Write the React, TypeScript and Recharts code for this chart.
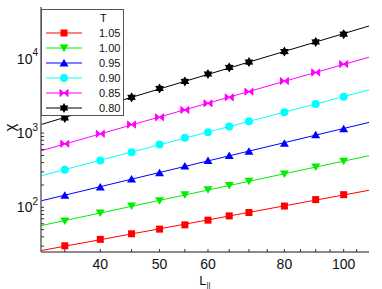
import { ComposedChart, Legend, Line, Scatter, XAxis, YAxis } from 'recharts'

const L = [35, 40, 45, 50, 55, 60, 65, 70, 80, 90, 100]

const chi105 = [30.3, 37.0, 44.0, 50.8, 58.0, 67.1, 76.6, 85.1, 104, 127, 148]
const chi100 = [65.6, 84, 104, 123, 148, 173, 196, 224, 281, 348, 419]
const chi095 = [145, 188, 240, 293, 359, 428, 500, 571, 731, 948, 1140]
const chi090 = [321, 428, 554, 703, 865, 1028, 1225, 1443, 1906, 2472, 3097]
const chi085 = [718, 977, 1303, 1633, 2052, 2518, 3032, 3614, 5030, 6560, 8510]
const chi080 = [1603, 2250, 3032, 4000, 4970, 6250, 7660, 9050, 12560, 16940, 21500]

const X_DOMAIN: [number, number] = [32, 110]
const Y_DOMAIN: [number, number] = [25, 50000]
const X_TICKS = [35, 40, 45, 50, 55, 60, 65, 70, 75, 80, 85, 90, 95, 100, 105]
const X_LABELED = [40, 50, 60, 80, 100]
const Y_TICKS = [
  30, 40, 50, 60, 70, 80, 90,
  100, 200, 300, 400, 500, 600, 700, 800, 900,
  1000, 2000, 3000, 4000, 5000, 6000, 7000, 8000, 9000,
  10000, 20000, 30000, 40000,
]
const Y_LABELED = [100, 1000, 10000]

type Marker = 'square' | 'down' | 'up' | 'circle' | 'bowtie' | 'star'

const SERIES: { t: string; values: number[]; color: string; marker: Marker }[] = [
  { t: '1.05', values: chi105, color: '#ff0000', marker: 'square' },
  { t: '1.00', values: chi100, color: '#00ee00', marker: 'down' },
  { t: '0.95', values: chi095, color: '#0000ff', marker: 'up' },
  { t: '0.90', values: chi090, color: '#00ffff', marker: 'circle' },
  { t: '0.85', values: chi085, color: '#ff00ff', marker: 'bowtie' },
  { t: '0.80', values: chi080, color: '#000000', marker: 'star' },
]

const FONT = '"Liberation Sans", Arial, sans-serif'

// least squares in log-log, evaluated at the axis ends
function powerFit(xs: number[], ys: number[]) {
  const lx = xs.map(Math.log10)
  const ly = ys.map(Math.log10)
  const mx = lx.reduce((a, b) => a + b, 0) / lx.length
  const my = ly.reduce((a, b) => a + b, 0) / ly.length
  let sxy = 0
  let sxx = 0
  lx.forEach((v, i) => {
    sxy += (v - mx) * (ly[i] - my)
    sxx += (v - mx) * (v - mx)
  })
  const b = sxy / sxx
  const a = my - b * mx
  return X_DOMAIN.map((x) => ({ x, y: 10 ** (a + b * Math.log10(x)) }))
}

function drawMarker(kind: Marker, cx: number, cy: number, color: string) {
  switch (kind) {
    case 'square':
      return <rect x={cx - 3.5} y={cy - 3.5} width={7} height={7} fill={color} />
    case 'down':
      return <polygon points={`${cx - 4.5},${cy - 3.5} ${cx + 4.5},${cy - 3.5} ${cx},${cy + 4}`} fill={color} />
    case 'up':
      return <polygon points={`${cx - 4.5},${cy + 3.5} ${cx + 4.5},${cy + 3.5} ${cx},${cy - 4}`} fill={color} />
    case 'circle':
      return <circle cx={cx} cy={cy} r={4} fill={color} />
    case 'bowtie':
      return (
        <g fill={color} stroke={color} strokeWidth={1}>
          <polygon points={`${cx - 4},${cy - 3.5} ${cx},${cy} ${cx - 4},${cy + 3.5}`} />
          <polygon points={`${cx + 4},${cy - 3.5} ${cx},${cy} ${cx + 4},${cy + 3.5}`} />
        </g>
      )
    default: {
      const pts: string[] = []
      for (let k = 0; k < 12; k++) {
        const ang = (-90 + k * 30) * (Math.PI / 180)
        const r = k % 2 === 0 ? 5 : 3
        pts.push(`${cx + r * Math.cos(ang)},${cy + r * Math.sin(ang)}`)
      }
      return <polygon points={pts.join(' ')} fill={color} />
    }
  }
}

function XTick(props: any) {
  const { x, y, payload } = props
  if (!X_LABELED.includes(payload.value)) return <g />
  return (
    <text x={x} y={y} textAnchor="middle" fontSize={14} fontFamily={FONT} fill="#111">
      {payload.value}
    </text>
  )
}

function YTick(props: any) {
  const { x, y, payload } = props
  if (!Y_LABELED.includes(payload.value)) return <g />
  const exp = Math.round(Math.log10(payload.value))
  return (
    <text x={x} y={y + 5} textAnchor="end" fontSize={14} fontFamily={FONT} fill="#111">
      <tspan>10</tspan>
      <tspan dy={-7.5} fontSize={10}>{exp}</tspan>
    </text>
  )
}

function LegendBox() {
  return (
    <svg width={83} height={107} style={{ display: 'block', background: '#fff' }}>
      <rect x={0.5} y={0.5} width={82} height={106} fill="#fff" stroke="#555" strokeWidth={1} />
      <text x={59} y={13} fontSize={11} fontFamily={FONT} fill="#111">T</text>
      {SERIES.map((s, i) => {
        const cy = 24 + i * 15
        return (
          <g key={s.t}>
            <line x1={5} x2={41} y1={cy} y2={cy} stroke={s.color} strokeWidth={1} />
            {drawMarker(s.marker, 23, cy, s.color)}
            <text x={58} y={cy + 4} fontSize={11} fontFamily={FONT} fill="#111">{s.t}</text>
          </g>
        )
      })}
    </svg>
  )
}

export default function App() {
  return (
    <div style={{ position: 'absolute', left: 0, top: 0, background: '#fff' }}>
      <ComposedChart
        width={382}
        height={289}
        margin={{ top: 7, right: 13, bottom: 0, left: 0 }}
        style={{ fontFamily: FONT }}
      >
        <XAxis
          dataKey="x"
          type="number"
          scale="log"
          domain={X_DOMAIN}
          allowDataOverflow
          ticks={X_TICKS}
          interval={0}
          height={37}
          tickSize={-3}
          tickMargin={20}
          tick={<XTick />}
          axisLine={{ stroke: '#666', strokeWidth: 1.5 }}
          tickLine={{ stroke: '#333' }}
          label={{
            content: (p: any) => {
              const vb = p.viewBox
              return (
                <text x={vb.x + 164} y={vb.y + 33} textAnchor="middle" fontSize={13} fontFamily={FONT} fill="#111">
                  L<tspan dy={2} fontSize={8}>||</tspan>
                </text>
              )
            },
          }}
        />
        <XAxis
          xAxisId="top"
          orientation="top"
          type="number"
          scale="log"
          domain={X_DOMAIN}
          allowDataOverflow
          height={0}
          tick={false}
          tickLine={false}
          axisLine={{ stroke: '#808080', strokeWidth: 1.5 }}
        />
        <YAxis
          type="number"
          scale="log"
          domain={Y_DOMAIN}
          allowDataOverflow
          ticks={Y_TICKS}
          interval={0}
          width={41}
          tickSize={-3}
          tickMargin={6}
          tick={<YTick />}
          axisLine={{ stroke: '#666', strokeWidth: 1.5 }}
          tickLine={{ stroke: '#333' }}
          label={{
            content: (p: any) => {
              const vb = p.viewBox
              const cx = vb.x + 9
              const cy = vb.y + vb.height / 2 - 2
              return (
                <text
                  x={cx}
                  y={cy}
                  textAnchor="middle"
                  dominantBaseline="central"
                  fontSize={15}
                  fontFamily={FONT}
                  fill="#111"
                  transform={`rotate(-90, ${cx}, ${cy})`}
                >
                  χ
                </text>
              )
            },
          }}
        />
        <YAxis
          yAxisId="right"
          orientation="right"
          type="number"
          scale="log"
          domain={Y_DOMAIN}
          allowDataOverflow
          width={0}
          tick={false}
          tickLine={false}
          axisLine={{ stroke: '#808080', strokeWidth: 1.5 }}
        />
        {SERIES.map((s) => (
          <Line
            key={`fit-${s.t}`}
            data={powerFit(L, s.values)}
            dataKey="y"
            type="linear"
            stroke={s.color}
            strokeWidth={1}
            dot={false}
            activeDot={false}
            isAnimationActive={false}
            legendType="none"
          />
        ))}
        {SERIES.map((s) => (
          <Scatter
            key={`pts-${s.t}`}
            data={L.map((x, i) => ({ x, y: s.values[i] }))}
            dataKey="y"
            fill={s.color}
            isAnimationActive={false}
            shape={(p: any) => drawMarker(s.marker, p.cx, p.cy, s.color)}
          />
        ))}
        <Legend
          layout="vertical"
          align="center"
          verticalAlign="middle"
          content={() => <LegendBox />}
          wrapperStyle={{ position: 'absolute', left: 41, top: 9, width: 83, height: 107 }}
        />
      </ComposedChart>
    </div>
  )
}
